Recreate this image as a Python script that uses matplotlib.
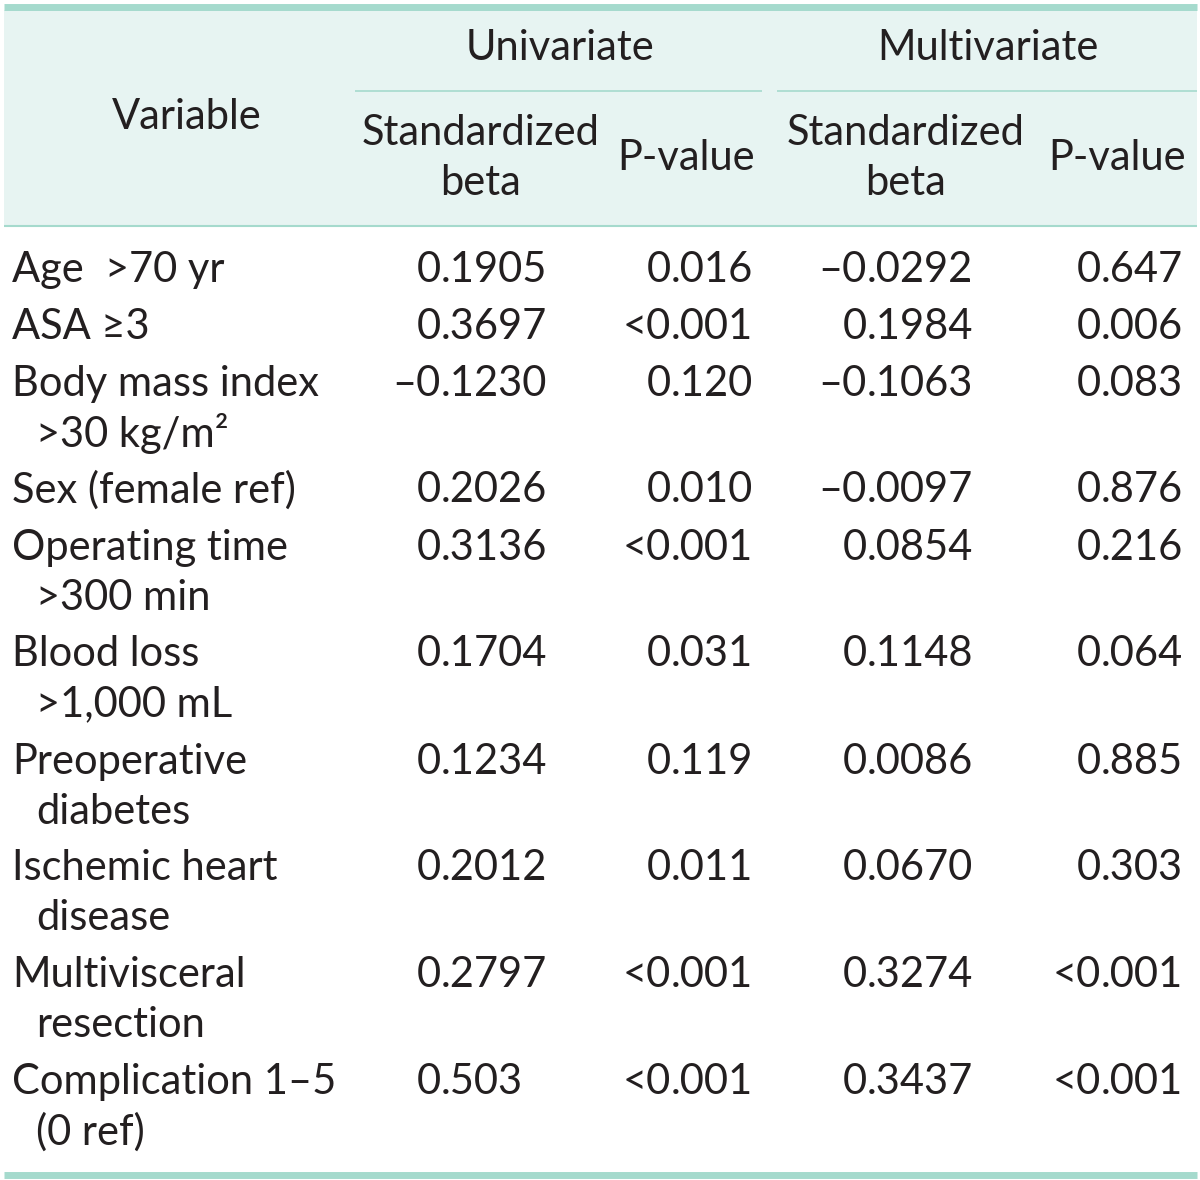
import matplotlib.pyplot as plt

# table content
variables = [
    ["Age  >70 yr"],
    ["ASA \u22653"],
    ["Body mass index", ">30 kg/m\u00b2"],
    ["Sex (female ref)"],
    ["Operating time", ">300 min"],
    ["Blood loss", ">1,000 mL"],
    ["Preoperative", "diabetes"],
    ["Ischemic heart", "disease"],
    ["Multivisceral", "resection"],
    ["Complication 1\u20135", "(0 ref)"],
]
uni_beta = ["0.1905", "0.3697", "\u20130.1230", "0.2026", "0.3136",
            "0.1704", "0.1234", "0.2012", "0.2797", "0.503"]
uni_p = ["0.016", "<0.001", "0.120", "0.010", "<0.001",
         "0.031", "0.119", "0.011", "<0.001", "<0.001"]
multi_beta = ["\u20130.0292", "0.1984", "\u20130.1063", "\u20130.0097", "0.0854",
              "0.1148", "0.0086", "0.0670", "0.3274", "0.3437"]
multi_p = ["0.647", "0.006", "0.083", "0.876", "0.216",
           "0.064", "0.885", "0.303", "<0.001", "<0.001"]

teal = "#a5dacd"
head_bg = "#e7f4f2"
ink = "#231f20"
fs = 30
fam = ["Lato", "DejaVu Sans"]

fig = plt.figure(figsize=(12, 11.8), dpi=100)
ax = fig.add_axes([0, 0, 1, 1])
ax.set_xlim(0, 1200)
ax.set_ylim(1180, 0)
ax.axis("off")

# header background and rules
ax.fill_between([4, 1197], 10, 226, color=head_bg, lw=0)
ax.hlines(6.5, 4, 1197, color=teal, lw=5)
ax.hlines(226, 4, 1197, color=teal, lw=1.5)
ax.hlines(1174.5, 4, 1197, color=teal, lw=5)
ax.hlines(91, 355, 762, color=teal, lw=1.2)
ax.hlines(91, 777, 1197, color=teal, lw=1.2)


def t(x, y, s, ha="left"):
    ax.text(x, y, s, ha=ha, va="center", fontsize=fs, color=ink, family=fam)


# header text
t(187, 117, "Variable", "center")
t(560, 48, "Univariate", "center")
t(988, 48, "Multivariate", "center")
t(481, 133, "Standardized", "center")
t(481, 183, "beta", "center")
t(686, 158, "P-value", "center")
t(906, 133, "Standardized", "center")
t(906, 183, "beta", "center")
t(1117, 158, "P-value", "center")

row_y = [270, 327, 384, 490, 548, 654, 762, 868, 975, 1082]
line_gap = 50


def dec(x, y, s):
    # align on the decimal point
    a, b = s.split(".")
    t(x, y, a, "right")
    t(x, y, "." + b, "left")


for i, y in enumerate(row_y):
    for j, line in enumerate(variables[i]):
        t(12 if j == 0 else 36, y + j * line_gap, line)
    dec(441, y, uni_beta[i])
    dec(671, y, uni_p[i])
    dec(867, y, multi_beta[i])
    dec(1101, y, multi_p[i])

fig.savefig("out.png", dpi=100)
